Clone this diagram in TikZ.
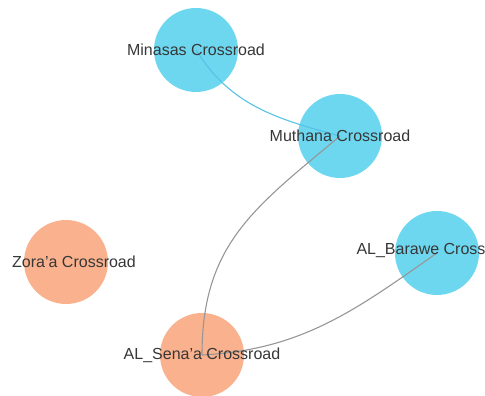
\documentclass[tikz,border=0pt]{standalone}
\usepackage{fontspec}
\setmainfont{Liberation Sans}
\usepackage{tikz}
\usetikzlibrary{shapes,arrows,positioning}
\definecolor{skyblue}{RGB}{110, 215, 240}
\definecolor{peach}{RGB}{250, 178, 142}
\definecolor{edgeblue}{RGB}{85, 195, 228}
\definecolor{edgegray}{RGB}{150, 150, 150}
\definecolor{labelgray}{RGB}{55, 55, 55}
\tikzstyle{hub} = [circle, draw=none, fill=skyblue, minimum size = 84pt, inner sep=0pt]
\tikzstyle{endhub} = [circle, draw=none, fill=peach, minimum size = 84pt, inner sep=0pt]
\tikzstyle{textonly} = [draw=none, fill=none, text=labelgray, text centered, font=\fontsize{16}{18}\selectfont, inner sep=0pt]
\tikzstyle{redge} = [draw, line width=1.1pt, edgegray]

\begin{document}
\begin{tikzpicture}[x=1pt, y=1pt]
\useasboundingbox (0,0) rectangle (485,396);
\clip (0,0) rectangle (485,396);

% crossroads =============================
\node[hub] (minasas) at (196,346) {};
\node[hub] (muthana) at (340,260) {};
\node[endhub] (zora) at (66,134) {};
\node[hub] (barawe) at (437,143) {};
\node[endhub] (sena) at (202,41) {};

% edges
\path[redge, edgeblue] (minasas.center) to[out=-58, in=165] (muthana.center);
\path[redge] (muthana.center) to[out=220, in=90, looseness=1.1] (sena.center);
\path[redge] (sena.center) to[out=3, in=215] (barawe.center);

% labels
\node[textonly] (minasas-lbl) at (minasas) {Minasas Crossroad};
\node[textonly] (muthana-lbl) at (muthana) {Muthana Crossroad};
\node[textonly, xshift=8pt] (zora-lbl) at (zora) {Zora'a Crossroad};
\node[textonly, yshift=3pt] (barawe-lbl) at (barawe) {AL\_Barawe Crossroad};
\node[textonly] (sena-lbl) at (sena) {AL\_Sena'a Crossroad};

\end{tikzpicture}
\end{document}
